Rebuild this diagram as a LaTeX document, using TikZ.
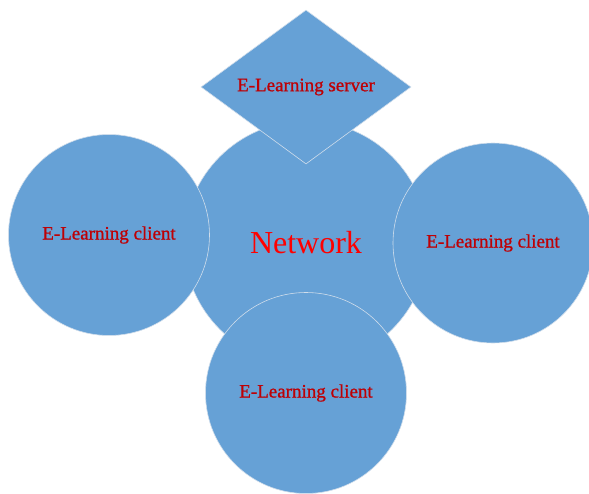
\documentclass[tikz,border=0pt]{standalone}
\usepackage{fontspec}
\setmainfont{Liberation Serif}
\newfontfamily\labelfont[FakeBold=0.9]{Liberation Serif}
\usetikzlibrary{shapes.geometric}
\definecolor{shapeblue}{RGB}{102,161,214}
\definecolor{edgegrey}{RGB}{208,221,235}
\definecolor{labelred}{RGB}{190,0,5}

\begin{document}
\begin{tikzpicture}[x=1pt, y=-1pt, main/.style = {circle, draw = edgegrey, line width = 0.6pt, fill = shapeblue, inner sep = 0pt, minimum size = 201pt, text = labelred, font = \labelfont\fontsize{19}{21}\selectfont}, server/.style = {diamond, draw = edgegrey, line width = 0.6pt, fill = shapeblue, inner sep = 0pt, aspect = 1.36, minimum width = 210pt, minimum height = 154pt, text = labelred, font = \labelfont\fontsize{19}{21}\selectfont}]
	\useasboundingbox (0,0) rectangle (589,493);
	\node[main, minimum size = 244pt, text = red, font = \rmfamily\fontsize{32}{34}\selectfont] (net) at (306,243) {Network};
	\node[server] (srv) at (306,87) {E-Learning server};
	\node[main] (left) at (109,235) {E-Learning client};
	\node[main, minimum size = 200pt] (right) at (493,243) {E-Learning client};
	\node[main] (bottom) at (306,393) {E-Learning client};
\end{tikzpicture}
\end{document}
